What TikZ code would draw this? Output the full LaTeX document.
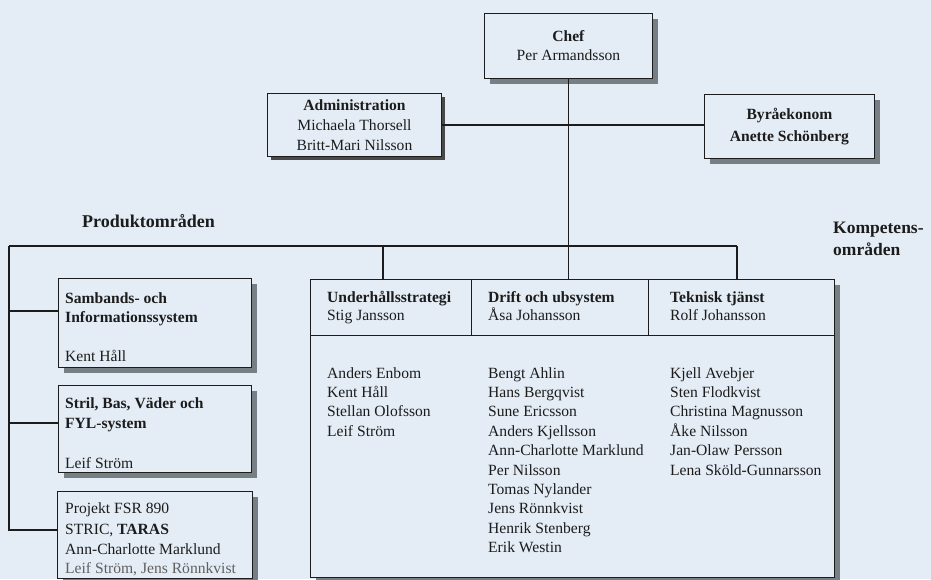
\documentclass[tikz,border=0pt]{standalone}
\usepackage{fontspec}
\setmainfont{Liberation Serif}
\usetikzlibrary{shadows}
\definecolor{bg}{RGB}{228,237,246}
\definecolor{shd}{RGB}{118,128,132}
\definecolor{ink}{RGB}{28,28,28}
\begin{document}
\begin{tikzpicture}[x=1pt,y=-1pt,
  box/.style={draw=ink, line width=0.9pt, fill=bg, inner sep=0pt},
  shbox/.style={box, drop shadow={shadow xshift=6pt, shadow yshift=-6pt, fill=shd, opacity=1}},
  thinshbox/.style={box, drop shadow={shadow xshift=4pt, shadow yshift=-4pt, fill=ink!80, opacity=1}},
  conn/.style={draw=ink, line width=1.3pt},
  txt/.style={inner sep=0pt, text=ink, font=\fontsize{15.6}{19}\selectfont},
  btxt/.style={inner sep=0pt, text=ink, font=\fontsize{15.6}{19}\selectfont\bfseries},
  ttl/.style={inner sep=0pt, text=ink, font=\fontsize{17.5}{22}\selectfont\bfseries, align=left},
]
\useasboundingbox (0,0) rectangle (931,579);
\fill[bg] (0,0) rectangle (931,579);

% ---- top boxes
\node[shbox, anchor=north west, minimum width=168pt, minimum height=65pt,
      align=center, font=\fontsize{15.6}{19}\selectfont, text=ink] (chef) at (484,13)
      {\textbf{Chef}\\Per Armandsson};
\node[thinshbox, anchor=north west, minimum width=174pt, minimum height=63pt,
      align=center, font=\fontsize{15.6}{20}\selectfont, text=ink] (admin) at (267,93)
      {\textbf{Administration}\\Michaela Thorsell\\Britt-Mari Nilsson};
\node[shbox, anchor=north west, minimum width=170pt, minimum height=64pt,
      align=center, font=\fontsize{15.6}{22}\selectfont\bfseries, text=ink] (byra) at (704,94)
      {Byråekonom\\Anette Schönberg};

% ---- titles
\node[ttl, anchor=base west, font=\fontsize{18}{22}\selectfont\bfseries] (prod) at (82,227) {Produktområden};
\node[ttl, anchor=base west] (komp1) at (833,233) {Kompetens-};
\node[ttl, anchor=base west] (komp2) at (833,255) {områden};

% ---- left boxes
\node[shbox, anchor=north west, minimum width=193pt, minimum height=89pt] (samb) at (58,278) {};
\node[shbox, anchor=north west, minimum width=193pt, minimum height=87pt] (stril) at (58,385) {};
\node[shbox, anchor=north west, minimum width=195pt, minimum height=87pt] (proj) at (57,491) {};

\node[btxt, anchor=base west] (samb1) at (65,303) {Sambands- och};
\node[btxt, anchor=base west] (samb2) at (65,322) {Informationssystem};
\node[txt, anchor=base west] (samb3) at (65,361) {Kent Håll};

\node[btxt, anchor=base west] (stril1) at (65,408) {Stril, Bas, Väder och};
\node[btxt, anchor=base west] (stril2) at (65,428) {FYL-system};
\node[txt, anchor=base west] (stril3) at (65,468) {Leif Ström};

\node[txt, anchor=base west] (proj1) at (65,513) {Projekt FSR 890};
\node[txt, anchor=base west] (proj2) at (65,534) {STRIC, \textbf{TARAS}};
\node[txt, anchor=base west] (proj3) at (65,554) {Ann-Charlotte Marklund};
\node[txt, anchor=base west, text=ink!70] (proj4) at (65,573) {Leif Ström, Jens Rönnkvist};

% ---- competence table
\node[shbox, anchor=north west, minimum width=524pt, minimum height=298pt] (tab) at (310,279) {};
\draw[draw=ink, line width=0.9pt] (tab.west |- 0,335) -- (tab.east |- 0,335);
\draw[draw=ink, line width=0.9pt] (471,0 |- tab.north) -- (471,335);
\draw[draw=ink, line width=0.9pt] (648,0 |- tab.north) -- (648,335);

\node[btxt, anchor=base west] (h1) at (327,302) {Underhållsstrategi};
\node[txt, anchor=base west] (h1b) at (327,320) {Stig Jansson};
\node[btxt, anchor=base west] (h2) at (488,302) {Drift och ubsystem};
\node[txt, anchor=base west] (h2b) at (488,320) {Åsa Johansson};
\node[btxt, anchor=base west] (h3) at (670,302) {Teknisk tjänst};
\node[txt, anchor=base west] (h3b) at (670,320) {Rolf Johansson};

\foreach \n [count=\i] in {Anders Enbom, Kent Håll, Stellan Olofsson, Leif Ström}
  \node[txt, anchor=base west] (u\i) at (327,{378+19.4*(\i-1)}) {\n};
\foreach \n [count=\i] in {Bengt Ahlin, Hans Bergqvist, Sune Ericsson, Anders Kjellsson,
  Ann-Charlotte Marklund, Per Nilsson, Tomas Nylander, Jens Rönnkvist, Henrik Stenberg, Erik Westin}
  \node[txt, anchor=base west] (d\i) at (488,{378+19.4*(\i-1)}) {\n};
\foreach \n [count=\i] in {Kjell Avebjer, Sten Flodkvist, Christina Magnusson, Åke Nilsson,
  Jan-Olaw Persson, Lena Sköld-Gunnarsson}
  \node[txt, anchor=base west] (t\i) at (670,{378+19.4*(\i-1)}) {\n};

% ---- connectors
\coordinate (busL) at (9,246);
\coordinate (busM) at (383,246);
\coordinate (busR) at (737,246);
\draw[conn] (chef.south) -- (chef.south |- tab.north);
\draw[conn] (admin.east) -- (admin.east -| byra.west);
\draw[conn] (busL) -- (busR);
\draw[conn] (busM) -- (busM |- tab.north);
\draw[conn] (busR) -- (busR |- tab.north);
\draw[conn] (busL) -- (busL |- 0,530) -- (proj.west |- 0,530);
\draw[conn] (busL |- 0,311) -- (samb.west |- 0,311);
\draw[conn] (busL |- 0,423) -- (stril.west |- 0,423);
\end{tikzpicture}
\end{document}
